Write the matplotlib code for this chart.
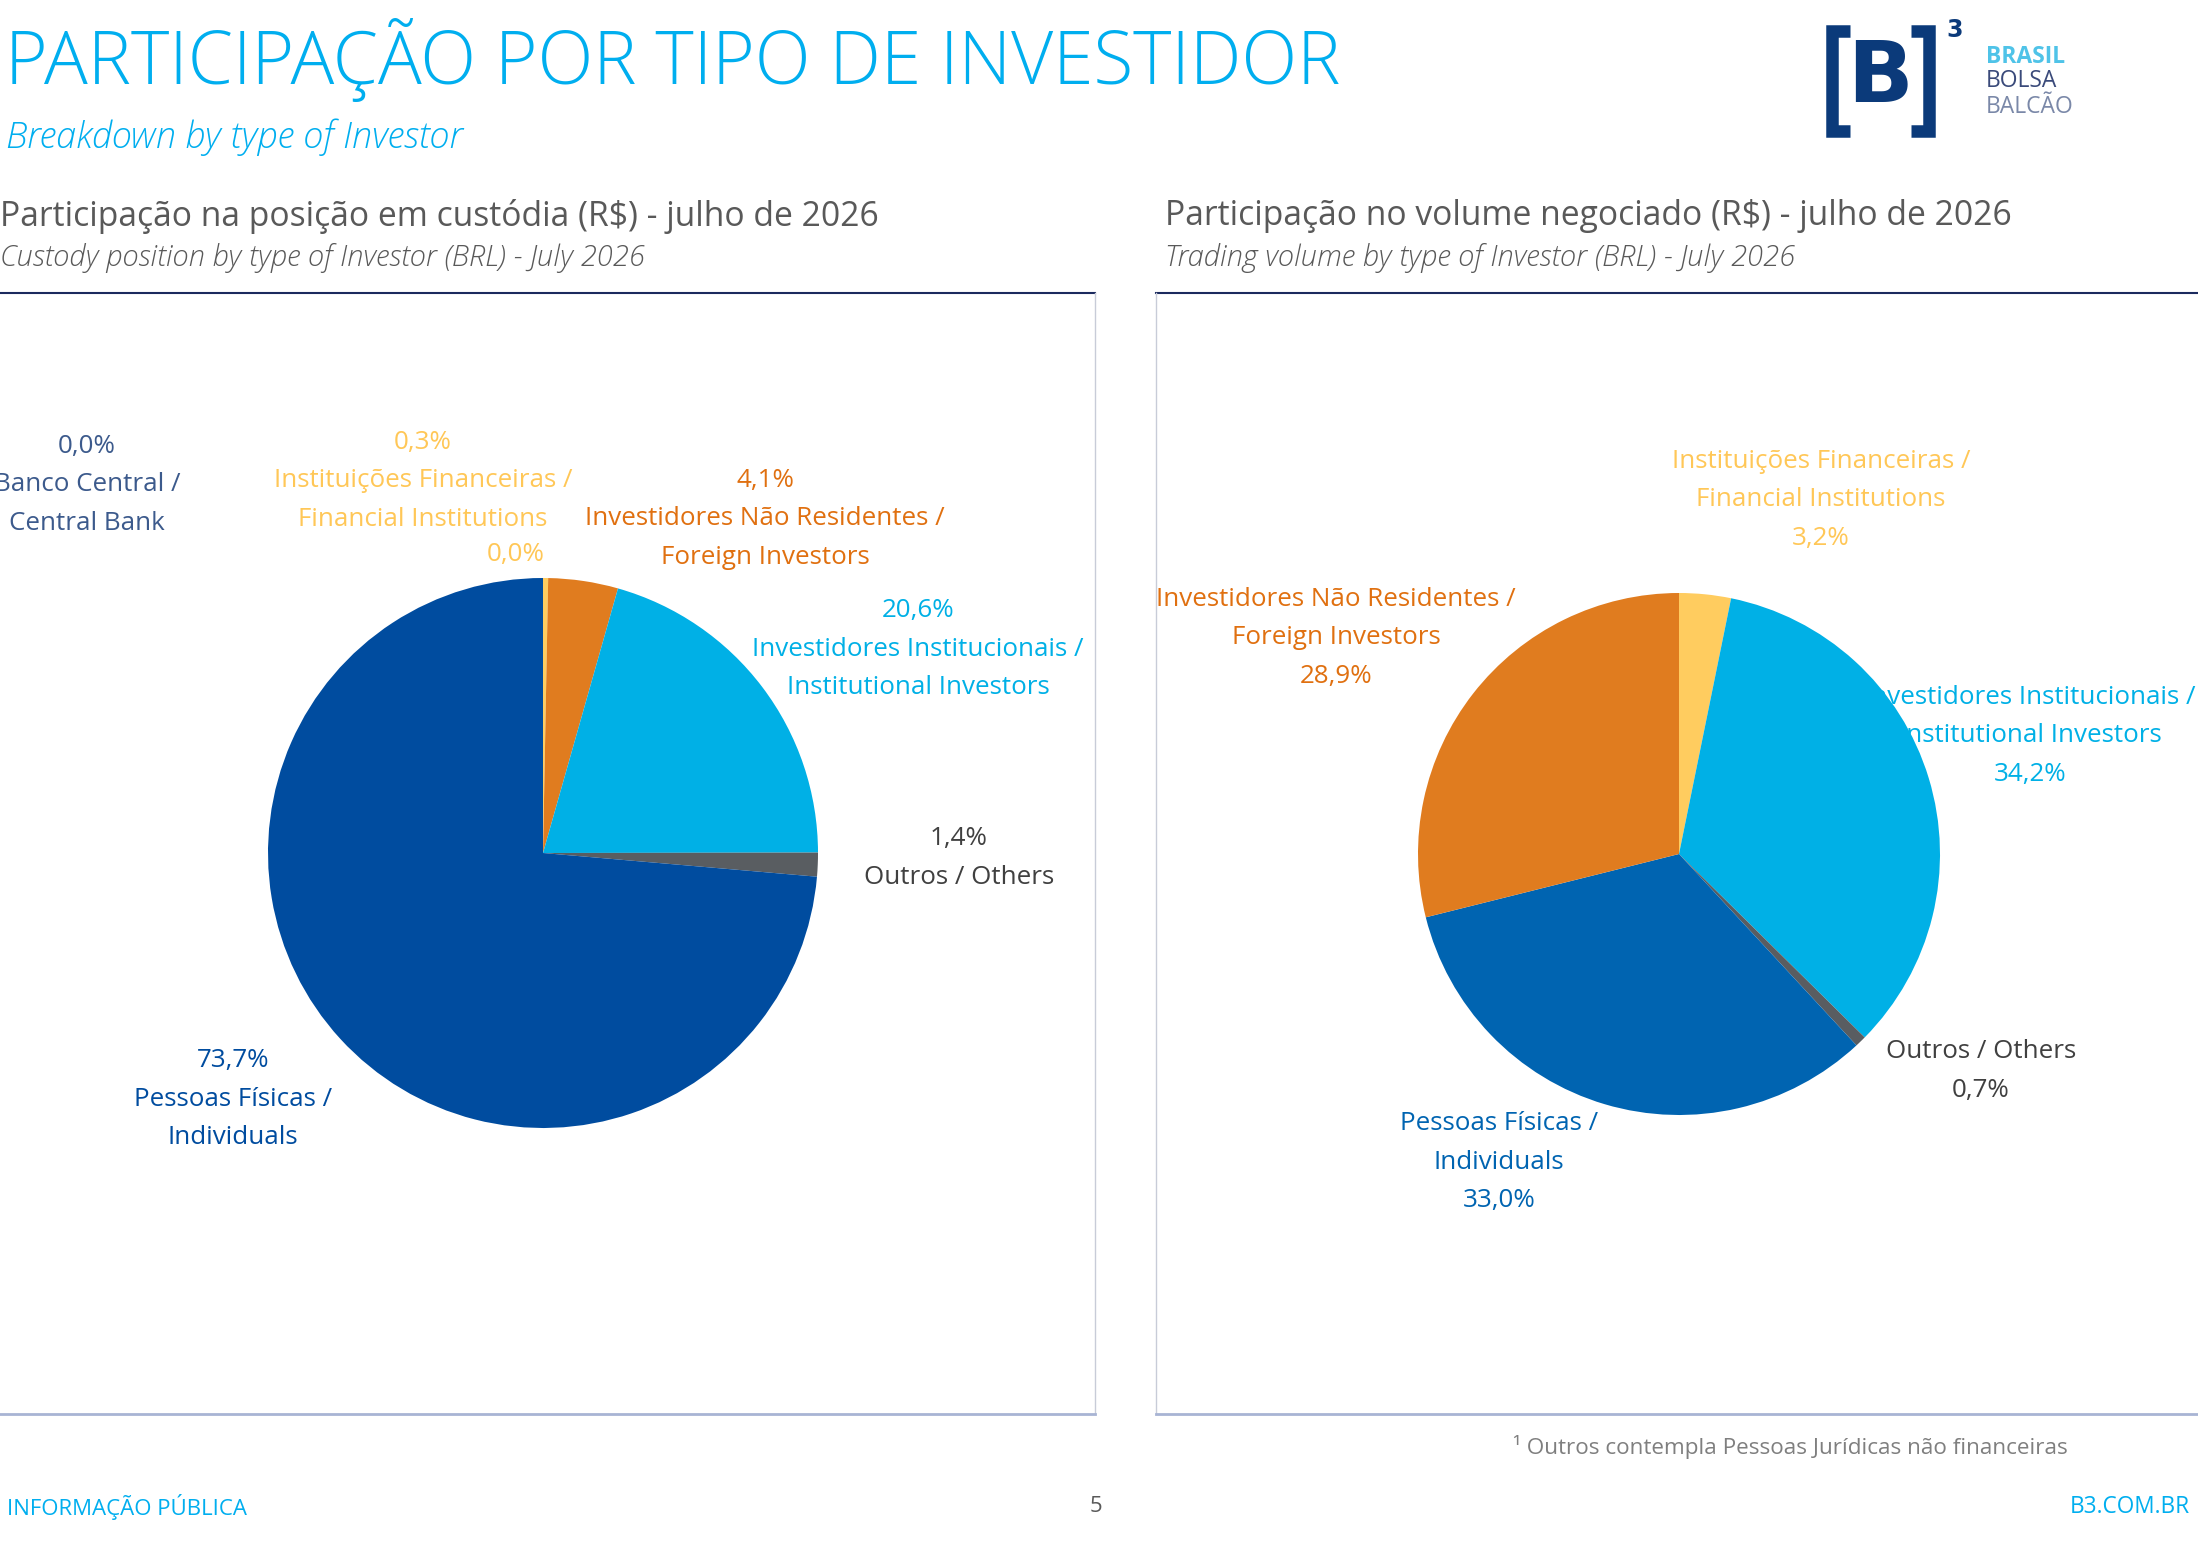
import matplotlib
matplotlib.use("Agg")
import matplotlib.pyplot as plt

plt.rcParams['font.family'] = ['Open Sans', 'DejaVu Sans']

# ---- data ----
custody_labels = ['Banco Central', 'Instituições Financeiras', 'Investidores Não Residentes',
                  'Investidores Institucionais', 'Outros', 'Pessoas Físicas']
custody_values = [0.0, 0.3, 4.1, 20.6, 1.4, 73.7]
custody_colors = ['#3C5A8C', '#FFCC5F', '#E07C1F', '#00B0E6', '#595D61', '#004C9F']

volume_labels = ['Instituições Financeiras', 'Investidores Institucionais', 'Outros',
                 'Pessoas Físicas', 'Investidores Não Residentes']
volume_values = [3.2, 34.2, 0.7, 33.0, 28.9]
volume_colors = ['#FFCC5F', '#00B0E6', '#595D61', '#0064B1', '#E07C1F']

CYAN = '#00AEEF'
GRAY = '#595959'
W, H = 2198, 1542
LBL = 18.7

fig = plt.figure(figsize=(W / 100, H / 100), dpi=100)
bg = fig.add_axes([0, 0, 1, 1])
bg.set_xlim(0, W)
bg.set_ylim(H, 0)
bg.axis('off')


def pct(v):
    return f"{v:.1f}%".replace('.', ',')


def block(x, y, lines, color, size=LBL, step=38.5):
    for i, ln in enumerate(lines):
        bg.text(x, y + i * step, ln, color=color, fontsize=size, ha='center', va='center')


# ---- headings ----
bg.text(5, 60, 'PARTICIPAÇÃO POR TIPO DE INVESTIDOR', color=CYAN, fontsize=52.5,
        fontweight='light', ha='left', va='center')
bg.text(6, 137, 'Breakdown by type of Investor', color=CYAN, fontsize=26,
        style='italic', fontweight='light', ha='left', va='center')

bg.text(0, 216, 'Participação na posição em custódia (R$) - julho de 2026', color=GRAY,
        fontsize=24.2, ha='left', va='center')
bg.text(0, 258, 'Custody position by type of Investor (BRL) - July 2026', color=GRAY,
        fontsize=21, style='italic', fontweight='light', ha='left', va='center')
bg.text(1165, 216, 'Participação no volume negociado (R$) - julho de 2026', color=GRAY,
        fontsize=24.2, ha='left', va='center')
bg.text(1165, 258, 'Trading volume by type of Investor (BRL) - July 2026', color=GRAY,
        fontsize=21, style='italic', fontweight='light', ha='left', va='center')

# ---- logo ----
NAVY = '#0B3A7A'
bg.plot([1850, 1832, 1832, 1850], [31, 31, 131, 131], color=NAVY, lw=9,
        solid_joinstyle='miter', solid_capstyle='butt')
bg.plot([1911, 1929, 1929, 1911], [31, 31, 131, 131], color=NAVY, lw=9,
        solid_joinstyle='miter', solid_capstyle='butt')
bg.text(1880, 79, 'B', color=NAVY, fontsize=62, fontweight='bold', ha='center',
        va='center', family='DejaVu Sans')
bg.text(1955, 30, '3', color=NAVY, fontsize=17, fontweight='bold', ha='center',
        va='center', family='DejaVu Sans')
bg.text(1986, 57, 'BRASIL', color='#4FC3E8', fontsize=16.5, fontweight='bold', ha='left', va='center')
bg.text(1986, 81, 'BOLSA', color='#3A4A7A', fontsize=16.5, ha='left', va='center')
bg.text(1986, 107, 'BALCÃO', color='#7A88A8', fontsize=16.5, ha='left', va='center')

# ---- panel frames ----
bg.plot([0, 1095], [293, 293], color='#1B2A5E', lw=1.5)
bg.plot([1095, 1095], [293, 1414], color='#C8CCD8', lw=1)
bg.plot([0, 1095], [1414, 1414], color='#A8B4D4', lw=2)
bg.plot([1156, W], [293, 293], color='#1B2A5E', lw=1.5)
bg.plot([1156, 1156], [293, 1414], color='#C8CCD8', lw=1)
bg.plot([1156, W], [1414, 1414], color='#A8B4D4', lw=2)


# ---- pies ----
def pie_axes(cx, cy, r):
    ax = fig.add_axes([(cx - r) / W, 1 - (cy + r) / H, 2 * r / W, 2 * r / H])
    ax.set_zorder(2)
    return ax


ax1 = pie_axes(543, 853, 275)
ax1.pie(custody_values, colors=custody_colors, startangle=90, counterclock=False,
        radius=1, wedgeprops=dict(linewidth=0))
ax1.set_xlim(-1, 1)
ax1.set_ylim(-1, 1)
ax1.axis('off')

ax2 = pie_axes(1679, 854, 261)
ax2.pie(volume_values, colors=volume_colors, startangle=90, counterclock=False,
        radius=1, wedgeprops=dict(linewidth=0))
ax2.set_xlim(-1, 1)
ax2.set_ylim(-1, 1)
ax2.axis('off')

# ---- left labels ----
block(87, 446, [pct(custody_values[0]), 'Banco Central /', 'Central Bank'], '#3C5A8C')
block(423, 442, [pct(custody_values[1]), 'Instituições Financeiras /', 'Financial Institutions'], '#FFC757')
bg.text(516, 555, pct(0.0), color='#FFC757', fontsize=LBL, ha='center', va='center')
block(765, 480, [pct(custody_values[2]), 'Investidores Não Residentes /', 'Foreign Investors'], '#E07010')
block(918, 611, [pct(custody_values[3]), 'Investidores Institucionais /', 'Institutional Investors'], '#00B0E6')
block(959, 839, [pct(custody_values[4]), 'Outros / Others'], '#404040')
block(233, 1061, [pct(custody_values[5]), 'Pessoas Físicas /', 'Individuals'], '#004C9F')

# ---- right labels ----
block(1821, 461, ['Instituições Financeiras /', 'Financial Institutions', pct(volume_values[0])], '#FFC757')
block(1336, 599, ['Investidores Não Residentes /', 'Foreign Investors', pct(volume_values[4])], '#E07010')
block(2030, 697, ['Investidores Institucionais /', 'Institutional Investors', pct(volume_values[1])], '#00B0E6')
block(1981, 1052, ['Outros / Others', pct(volume_values[2])], '#404040')
block(1499, 1124, ['Pessoas Físicas /', 'Individuals', pct(volume_values[3])], '#0064B1')

# ---- footer ----
bg.text(2068, 1447, '¹ Outros contempla Pessoas Jurídicas não financeiras', color='#7F7F7F',
        fontsize=16.2, ha='right', va='center')
bg.text(7, 1507, 'INFORMAÇÃO PÚBLICA', color=CYAN, fontsize=16, ha='left', va='center')
bg.text(1096, 1507, '5', color=GRAY, fontsize=16, ha='center', va='center')
bg.text(2190, 1507, 'B3.COM.BR', color=CYAN, fontsize=16.3, ha='right', va='center')

fig.savefig('out.png', dpi=100)
